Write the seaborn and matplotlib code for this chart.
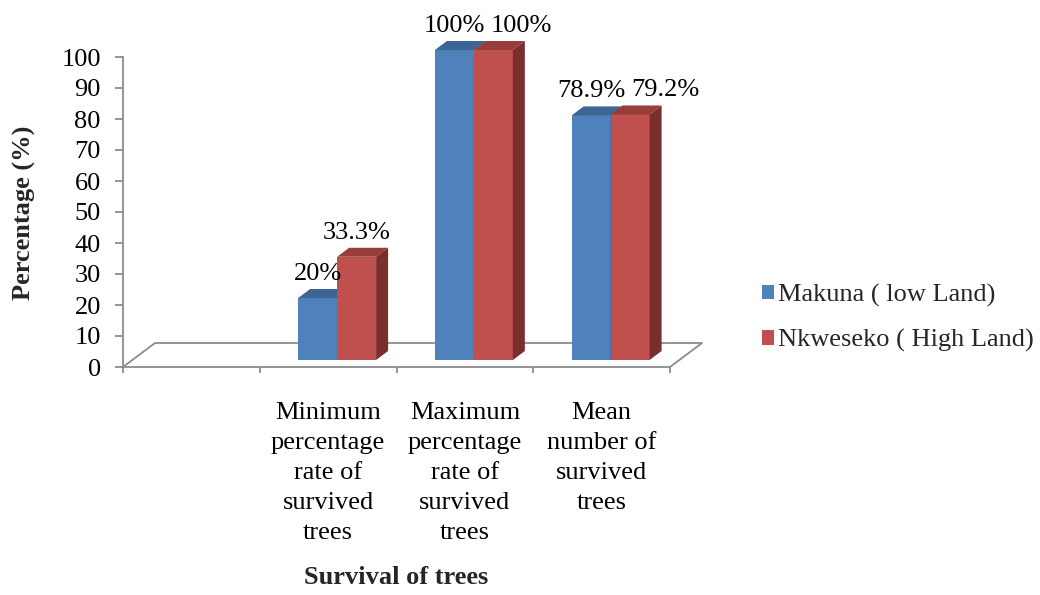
import textwrap

import matplotlib
matplotlib.use("Agg")
import matplotlib.pyplot as plt
import pandas as pd
import seaborn as sns
from matplotlib.lines import Line2D
from matplotlib.patches import Patch, Polygon
from matplotlib.transforms import IdentityTransform, ScaledTranslation

# ---- data -------------------------------------------------------------
categories = [
    "Minimum percentage rate of survived trees",
    "Maximum percentage rate of survived trees",
    "Mean number of survived trees",
]
sites = ["Makuna ( low Land)", "Nkweseko ( High Land)"]
makuna = [20, 100, 78.9]
nkweseko = [33.3, 100, 79.2]
makuna_labels = ["20%", "100%", "78.9%"]
nkweseko_labels = ["33.3%", "100%", "79.2%"]
y_ticks = list(range(0, 101, 10))

# ---- styling ----------------------------------------------------------
front_colors = ["#4F81BD", "#C0504D"]
top_colors = ["#3C6594", "#983D3B"]
side_colors = ["#34577F", "#7A2F2E"]
axis_gray = "#8C8C8C"

sns.set_theme(style="white")
plt.rcParams["font.family"] = ["Liberation Serif", "DejaVu Serif"]

DPI = 100
W, H = 1040, 595
BAR_SHIFT = (9, 7)      # pixels: bars sit part-way back on the floor
DEPTH = (12, 9)         # pixels: depth of each 3-D bar
FLOOR = (32, 24)        # pixels: depth of the floor plane
X_LIMITS = (-1.5, len(categories) - 0.5)   # one empty slot before the data

df = pd.DataFrame({
    "category": categories * 2,
    "site": [sites[0]] * len(categories) + [sites[1]] * len(categories),
    "pct": makuna + nkweseko,
})

fig = plt.figure(figsize=(W / DPI, H / DPI), dpi=DPI)
ax = fig.add_axes([123 / W, 1 - 367 / H, 547 / W, 310 / H])

sns.barplot(data=df, x="category", y="pct", hue="site", order=categories,
            hue_order=sites, palette=front_colors, saturation=1, width=0.57,
            errorbar=None, legend=False, linewidth=0, ax=ax)

# ---- axes, ticks (set before any pixel geometry is taken) ---------------
sns.despine(ax=ax)
for side_name in ("left", "bottom"):
    ax.spines[side_name].set_color(axis_gray)
    ax.spines[side_name].set_linewidth(1.3)

ax.set_yticks(y_ticks)
ax.tick_params(axis="y", which="major", left=True, direction="out",
               length=6, width=1.3, color=axis_gray, labelsize=19, pad=10,
               labelcolor="black")

ax.set_xticks(range(len(categories)))
ax.set_xticklabels([textwrap.fill(c, 10) for c in categories],
                   linespacing=1.47)
ax.set_xticks([X_LIMITS[0] + i for i in range(len(categories) + 2)],
              minor=True)
ax.tick_params(axis="x", which="major", length=0, labelsize=19, pad=25,
               labelcolor="black")
ax.tick_params(axis="x", which="minor", bottom=True, direction="out",
               length=4.5, width=1.3, color=axis_gray)
ax.set_xlabel("")
ax.set_ylabel("")
ax.grid(False)
ax.set_xlim(*X_LIMITS)
ax.set_ylim(0, 100)

# ---- floor of the 3-D plot ---------------------------------------------
p0 = ax.transData.transform((X_LIMITS[0], 0))
p1 = ax.transData.transform((X_LIMITS[1], 0))
floor = Line2D([p0[0], p0[0] + FLOOR[0], p1[0] + FLOOR[0], p1[0]],
               [p0[1], p0[1] + FLOOR[1], p1[1] + FLOOR[1], p1[1]],
               transform=IdentityTransform(), color=axis_gray, lw=1.3,
               zorder=1, clip_on=False)
ax.add_line(floor)

# ---- bars with top and side faces --------------------------------------
shift = ScaledTranslation(BAR_SHIFT[0] / DPI, BAR_SHIFT[1] / DPI,
                          fig.dpi_scale_trans)
dx, dy = DEPTH
for k, container in enumerate(ax.containers):
    z = 3 + k
    for bar in container:
        bar.set_transform(ax.transData + shift)
        bar.set_clip_on(False)
        bar.set_zorder(z)
        x0, w, h = bar.get_x(), bar.get_width(), bar.get_height()
        bx0, by0 = ax.transData.transform((x0, 0)) + BAR_SHIFT
        bx1, by1 = ax.transData.transform((x0 + w, h)) + BAR_SHIFT
        top = Polygon([(bx0, by1), (bx1, by1), (bx1 + dx, by1 + dy),
                       (bx0 + dx, by1 + dy)], closed=True,
                      transform=IdentityTransform(), facecolor=top_colors[k],
                      edgecolor="none", zorder=z + 0.1, clip_on=False)
        side = Polygon([(bx1, by0), (bx1 + dx, by0 + dy), (bx1 + dx, by1 + dy),
                        (bx1, by1)], closed=True,
                       transform=IdentityTransform(), facecolor=side_colors[k],
                       edgecolor="none", zorder=z + 0.1, clip_on=False)
        ax.add_patch(top)
        ax.add_patch(side)

# ---- value labels -----------------------------------------------------
PT = 72 / DPI
label_sets = [makuna_labels, nkweseko_labels]
annots = []
for k, container in enumerate(ax.containers):
    row = []
    for bar, text in zip(container, label_sets[k]):
        cx = bar.get_x() + bar.get_width() / 2
        a = ax.annotate(text, xy=(cx, bar.get_height()),
                        xytext=(BAR_SHIFT[0] * PT, 25 * PT),
                        textcoords="offset points", ha="center", va="baseline",
                        fontsize=19, color="black", annotation_clip=False,
                        zorder=6)
        row.append(a)
    annots.append(row)

# push a label sideways when it would collide with its neighbour
fig.canvas.draw()
renderer = fig.canvas.get_renderer()
for left, right in zip(annots[0], annots[1]):
    bl = left.get_window_extent(renderer)
    br = right.get_window_extent(renderer)
    if bl.overlaps(br):
        push = bl.x1 + 6 - br.x0
        ox, oy = right.xyann
        right.xyann = (ox + push * PT, oy)

fig.text(396 / W, 1 - 578 / H, "Survival of trees", ha="center", va="center",
         fontsize=19, fontweight="bold")
fig.text(24 / W, 1 - 213 / H, "Percentage (%)", rotation=90, ha="center",
         va="center", fontsize=19, fontweight="bold")

# ---- legend -----------------------------------------------------------
handles = [Patch(facecolor=c, edgecolor="none") for c in front_colors]
fig.legend(handles, sites, loc="center left",
           bbox_to_anchor=(762 / W, 1 - 318 / H), frameon=False,
           fontsize=19, handlelength=0.45, handleheight=0.45,
           handletextpad=0.15, labelspacing=0.85, borderpad=0,
           borderaxespad=0)

fig.savefig("out.png", dpi=DPI, facecolor="white")
